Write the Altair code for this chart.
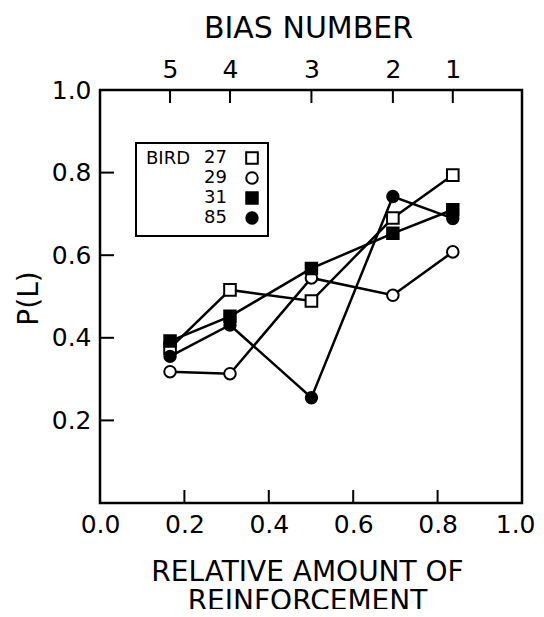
import json
import altair as alt
import pandas as pd

# ---------------- data ----------------
birds = ["27", "29", "31", "85"]
x_rel = [0.166, 0.308, 0.501, 0.694, 0.836]
bias_numbers = ["5", "4", "3", "2", "1"]
p_bird27 = [0.375, 0.516, 0.489, 0.690, 0.794]
p_bird29 = [0.318, 0.313, 0.545, 0.503, 0.608]
p_bird31 = [0.392, 0.452, 0.568, 0.653, 0.710]
p_bird85 = [0.355, 0.431, 0.255, 0.742, 0.689]
shapes = ["square", "circle", "square", "circle"]
fills = ["white", "white", "black", "black"]
sizes = [135, 130, 135, 130]
x_ticks = [0.2, 0.4, 0.6, 0.8]
x_labels = [0.0, 0.2, 0.4, 0.6, 0.8, 1.0]
y_ticks = [0.2, 0.4, 0.6, 0.8]
y_labels = [0.2, 0.4, 0.6, 0.8, 1.0]

rows = []
for b, vals in zip(birds, [p_bird27, p_bird29, p_bird31, p_bird85]):
    for xv, pv in zip(x_rel, vals):
        rows.append({"bird": b, "x": xv, "p": pv})
df = pd.DataFrame(rows)

FONT = "DejaVu Sans"
W, H = 422, 413
TICK = 13

xs = alt.Scale(domain=[0, 1], nice=False, zero=False)
ys = alt.Scale(domain=[0, 1], nice=False, zero=False)
shape_enc = alt.Shape("bird:N", scale=alt.Scale(domain=birds, range=shapes), legend=None)
fill_enc = alt.Fill("bird:N", scale=alt.Scale(domain=birds, range=fills), legend=None)
size_enc = alt.Size("bird:N", scale=alt.Scale(domain=birds, range=sizes), legend=None)

lines = alt.Chart(df).mark_line(color="black", strokeWidth=2.5).encode(
    x=alt.X("x:Q", scale=xs, axis=None),
    y=alt.Y("p:Q", scale=ys, axis=None),
    detail="bird:N",
    order="x:Q",
)

points = alt.Chart(df).mark_point(filled=True, stroke="black", strokeWidth=2, opacity=1).encode(
    x=alt.X("x:Q", scale=xs, axis=None),
    y=alt.Y("p:Q", scale=ys, axis=None),
    shape=shape_enc,
    fill=fill_enc,
    size=size_enc,
)

# left ticks (inward) + left axis labels
left_ticks = alt.Chart(pd.DataFrame({"v": y_ticks})).mark_rule(color="black", strokeWidth=2).encode(
    y=alt.Y("v:Q", scale=ys, axis=alt.Axis(
        values=y_labels, format=".1f", title="P(L)", ticks=False, tickSize=0, domain=False,
        grid=False, labelPadding=9, labelFontSize=25, titleFontSize=28,
        titleX=-63, titleY=208, titleAngle=270, titleAlign="center", titleBaseline="alphabetic",
        labelOverlap=False)),
    x=alt.value(0),
    x2=alt.value(TICK + 1),
)

# bottom ticks (inward) + bottom axis
bottom_ticks = alt.Chart(pd.DataFrame({"v": x_ticks})).mark_rule(color="black", strokeWidth=2).encode(
    x=alt.X("v:Q", scale=xs, axis=alt.Axis(
        values=x_labels, format=".1f", title=["RELATIVE AMOUNT OF", "REINFORCEMENT"],
        ticks=False, tickSize=0, domain=False, grid=False, labelPadding=9,
        labelFontSize=25, titleFontSize=28, titleLineHeight=29, labelFlush=False,
        labelAlign={"condition": {"test": "datum.value >= 1", "value": "right"}, "value": "center"},
        labelOffset={"condition": {"test": "datum.value >= 1", "value": 13}, "value": 0},
        titleX=207, titleY=77, titleAlign="center", titleBaseline="alphabetic",
        labelOverlap=False)),
    y=alt.value(H),
    y2=alt.value(H - TICK),
)

label_expr = "{}[indexof({}, datum.value)]".format(json.dumps(bias_numbers), json.dumps(x_rel))

top_ticks = alt.Chart(pd.DataFrame({"v": x_rel})).mark_rule(color="black", strokeWidth=2).encode(
    x=alt.X("v:Q", scale=xs, axis=alt.Axis(
        orient="top", values=x_rel, labelExpr=label_expr, title="BIAS NUMBER",
        ticks=False, tickSize=0, domain=False, grid=False, labelPadding=8,
        labelFontSize=25, titleFontSize=30, labelFlush=False, labelOverlap=False,
        titleX=208, titleY=-53, titleAlign="center", titleBaseline="alphabetic")),
    y=alt.value(0),
    y2=alt.value(TICK),
)

# ---------------- legend box ----------------
one = pd.DataFrame({"k": [0]})
legend_df = pd.DataFrame({"bird": birds})
lrow = alt.Scale(type="point", domain=birds, range=[68, 128], padding=0)

box = alt.Chart(one).mark_rect(fill="white", stroke="black", strokeWidth=2).encode(
    x=alt.value(36), x2=alt.value(168), y=alt.value(53), y2=alt.value(146)
)
bird_word = alt.Chart(one).mark_text(
    text="BIRD", align="left", baseline="middle", fontSize=18, font=FONT, color="black"
).encode(x=alt.value(46), y=alt.value(69))
bird_nums = alt.Chart(legend_df).mark_text(
    align="right", baseline="middle", fontSize=18, font=FONT, color="black"
).encode(
    x=alt.value(127),
    y=alt.Y("bird:O", scale=lrow, axis=None),
    text="bird:N",
)
bird_syms = alt.Chart(legend_df).mark_point(filled=True, stroke="black", strokeWidth=2, opacity=1).encode(
    x=alt.value(152),
    y=alt.Y("bird:O", scale=lrow, axis=None),
    shape=shape_enc,
    fill=fill_enc,
    size=size_enc,
)

chart = (
    alt.layer(lines, points, left_ticks, bottom_ticks, top_ticks, box, bird_word, bird_nums, bird_syms)
    .resolve_scale(y="independent")
    .resolve_axis(x="independent")
    .properties(
        width=W,
        height=H,
        padding={"left": 92, "top": 82, "right": 14, "bottom": 106},
        autosize=alt.AutoSizeParams(type="none"),
        background="white",
    )
    .configure_view(stroke="black", strokeWidth=2.5)
    .configure_axis(
        labelFont=FONT, titleFont=FONT, labelColor="black", titleColor="black",
        titleFontWeight="normal",
    )
)

chart.save("out.html", embed_options={"renderer": "svg", "actions": False})
